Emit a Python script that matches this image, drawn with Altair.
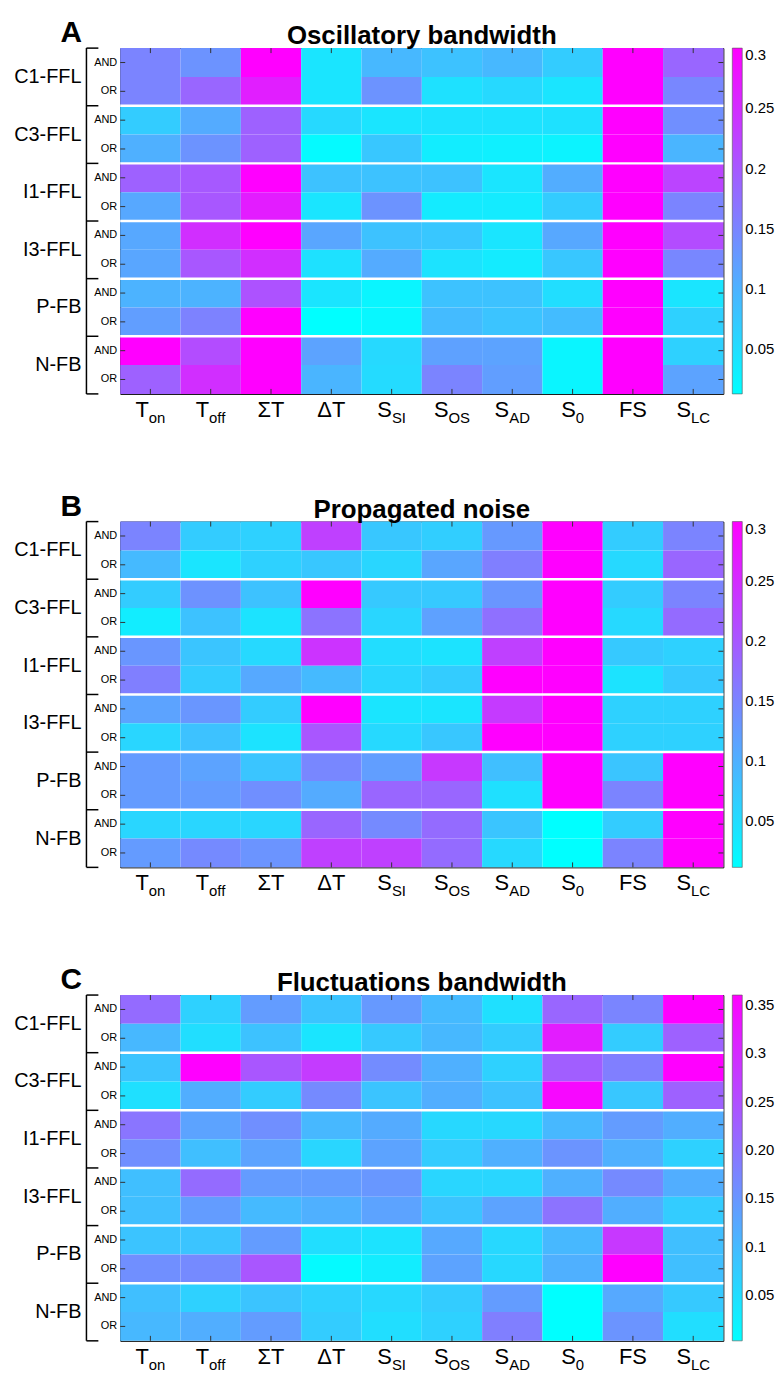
import altair as alt
import pandas as pd

FONT = "Liberation Sans, Arial, Helvetica, sans-serif"

# ---------------- data ----------------
COLUMNS = ["Ton", "Toff", "SumT", "DeltaT", "SSI", "SOS", "SAD", "S0", "FS", "SLC"]
LABEL_MAIN = ["T", "T", "ΣT", "ΔT", "S", "S", "S", "S", "FS", "S"]
LABEL_SUB = ["on", "off", "", "", "SI", "OS", "AD", "0", "", "LC"]
GROUPS = ["C1-FFL", "C3-FFL", "I1-FFL", "I3-FFL", "P-FB", "N-FB"]
LOGIC = ["AND", "OR"]

# rows: C1 AND, C1 OR, C3 AND, C3 OR, I1 AND, I1 OR, I3 AND, I3 OR, P AND, P OR, N AND, N OR
OSC_BW = [
    [0.151, 0.134, 0.330, 0.042, 0.093, 0.082, 0.093, 0.070, 0.330, 0.185],
    [0.151, 0.185, 0.266, 0.042, 0.134, 0.047, 0.056, 0.042, 0.330, 0.148],
    [0.070, 0.108, 0.191, 0.056, 0.042, 0.045, 0.045, 0.047, 0.330, 0.139],
    [0.102, 0.134, 0.191, 0.019, 0.076, 0.033, 0.030, 0.027, 0.330, 0.096],
    [0.191, 0.200, 0.330, 0.082, 0.082, 0.082, 0.042, 0.105, 0.330, 0.223],
    [0.111, 0.202, 0.268, 0.042, 0.134, 0.036, 0.036, 0.070, 0.330, 0.151],
    [0.111, 0.248, 0.330, 0.113, 0.082, 0.076, 0.042, 0.111, 0.330, 0.214],
    [0.113, 0.202, 0.248, 0.047, 0.108, 0.045, 0.036, 0.076, 0.330, 0.148],
    [0.099, 0.099, 0.208, 0.042, 0.024, 0.082, 0.082, 0.050, 0.330, 0.042],
    [0.122, 0.154, 0.330, 0.013, 0.022, 0.090, 0.079, 0.088, 0.330, 0.065],
    [0.330, 0.214, 0.330, 0.116, 0.056, 0.119, 0.116, 0.024, 0.330, 0.065],
    [0.191, 0.248, 0.330, 0.096, 0.053, 0.151, 0.122, 0.024, 0.330, 0.116],
]
OSC_DOMAIN = [0.013, 0.3]
OSC_TICKS = [0.05, 0.1, 0.15, 0.2, 0.25, 0.3]

NOISE = [
    [0.150, 0.069, 0.063, 0.228, 0.075, 0.066, 0.127, 0.330, 0.069, 0.150],
    [0.089, 0.040, 0.063, 0.075, 0.057, 0.112, 0.156, 0.330, 0.054, 0.184],
    [0.069, 0.135, 0.080, 0.330, 0.072, 0.072, 0.130, 0.330, 0.069, 0.150],
    [0.031, 0.080, 0.043, 0.170, 0.057, 0.118, 0.173, 0.330, 0.054, 0.179],
    [0.130, 0.077, 0.054, 0.242, 0.049, 0.043, 0.228, 0.330, 0.072, 0.063],
    [0.156, 0.069, 0.109, 0.089, 0.057, 0.069, 0.330, 0.330, 0.043, 0.072],
    [0.115, 0.130, 0.069, 0.330, 0.040, 0.040, 0.234, 0.330, 0.063, 0.063],
    [0.057, 0.080, 0.043, 0.202, 0.054, 0.075, 0.330, 0.330, 0.063, 0.063],
    [0.124, 0.115, 0.077, 0.147, 0.121, 0.236, 0.083, 0.330, 0.077, 0.330],
    [0.124, 0.124, 0.138, 0.106, 0.184, 0.184, 0.046, 0.330, 0.150, 0.330],
    [0.057, 0.057, 0.057, 0.184, 0.144, 0.179, 0.077, 0.011, 0.069, 0.330],
    [0.124, 0.144, 0.132, 0.228, 0.228, 0.179, 0.054, 0.011, 0.150, 0.330],
]
NOISE_DOMAIN = [0.011, 0.3]
NOISE_TICKS = [0.05, 0.1, 0.15, 0.2, 0.25, 0.3]

FLUCT_BW = [
    [0.210, 0.067, 0.142, 0.085, 0.146, 0.099, 0.046, 0.217, 0.174, 0.370],
    [0.103, 0.049, 0.089, 0.039, 0.078, 0.103, 0.074, 0.321, 0.074, 0.224],
    [0.085, 0.370, 0.239, 0.278, 0.164, 0.114, 0.067, 0.228, 0.182, 0.370],
    [0.046, 0.117, 0.074, 0.167, 0.085, 0.117, 0.089, 0.349, 0.082, 0.224],
    [0.196, 0.132, 0.160, 0.103, 0.121, 0.057, 0.057, 0.103, 0.142, 0.117],
    [0.160, 0.092, 0.132, 0.060, 0.132, 0.074, 0.114, 0.153, 0.114, 0.067],
    [0.092, 0.210, 0.142, 0.142, 0.149, 0.060, 0.060, 0.114, 0.167, 0.117],
    [0.092, 0.142, 0.099, 0.114, 0.132, 0.085, 0.132, 0.199, 0.117, 0.074],
    [0.085, 0.085, 0.142, 0.049, 0.042, 0.124, 0.057, 0.103, 0.281, 0.092],
    [0.160, 0.167, 0.239, 0.010, 0.028, 0.132, 0.057, 0.114, 0.370, 0.092],
    [0.092, 0.067, 0.085, 0.067, 0.057, 0.074, 0.142, 0.003, 0.124, 0.078],
    [0.103, 0.117, 0.142, 0.074, 0.049, 0.067, 0.182, 0.003, 0.153, 0.049],
]
FLUCT_DOMAIN = [0.003, 0.36]
FLUCT_TICKS = [0.05, 0.1, 0.15, 0.2, 0.25, 0.3, 0.35]

# ---------------- layout helpers ----------------
W, H = 607, 348
MAIN_SIZE, SUB_SIZE = 22, 15
CHAR_W = {"T": .611, "Σ": .60, "Δ": .668, "S": .667, "F": .611, "o": .556,
          "n": .556, "f": .278, "I": .278, "O": .778, "A": .667, "D": .722,
          "0": .556, "L": .556, "C": .722}


def text_w(s, size):
    return sum(CHAR_W.get(c, .6) for c in s) * size


ROWS = [f"{g} {l}" for g in GROUPS for l in LOGIC]
HALF_BAND = W / len(COLUMNS) / 2

label_df = pd.DataFrame({
    "col": COLUMNS,
    "main": LABEL_MAIN,
    "sub": LABEL_SUB,
    "off": [HALF_BAND + (text_w(m, MAIN_SIZE) - text_w(s, SUB_SIZE)) / 2
            for m, s in zip(LABEL_MAIN, LABEL_SUB)],
})
group_df = pd.DataFrame({"group": GROUPS, "row": [f"{g} AND" for g in GROUPS]})
sep_df = pd.DataFrame({"row": [f"{g} OR" for g in GROUPS[:-1]]})
row_df = pd.DataFrame({"row": ROWS, "logic": [l for g in GROUPS for l in LOGIC]})
col_df = pd.DataFrame({"col": COLUMNS})
one_df = pd.DataFrame({"k": [0]})


def panel(letter, title, values, domain, ticks, label_expr):
    cells = pd.DataFrame([
        {"row": ROWS[i], "col": COLUMNS[j], "v": values[i][j]}
        for i in range(len(ROWS)) for j in range(len(COLUMNS))
    ])
    xs = alt.Scale(domain=COLUMNS, paddingInner=0, paddingOuter=0)
    ys = alt.Scale(domain=ROWS, paddingInner=0, paddingOuter=0)

    heat = alt.Chart(cells).mark_rect(strokeWidth=0).encode(
        x=alt.X("col:N", scale=xs, axis=None),
        y=alt.Y("row:N", scale=ys, axis=None),
        color=alt.Color("v:Q", title=None, scale=alt.Scale(
            domain=domain, range=["#00ffff", "#ff00ff"], interpolate="rgb", clamp=True),
            legend=alt.Legend(
                title=None, orient="right", offset=9, padding=0, direction="vertical",
                gradientLength=H, gradientThickness=10, values=ticks,
                labelExpr=label_expr, labelFontSize=15, labelFont=FONT,
                labelColor="black", labelOverlap=False, labelBaseline="middle",
                labelOffset=3, gradientStrokeColor="#555", gradientStrokeWidth=0.6)),
    )

    seps = alt.Chart(sep_df).mark_rule(color="white", strokeWidth=2.5).encode(
        y=alt.Y("row:N", scale=ys, axis=None, bandPosition=1),
        x=alt.value(0), x2=alt.value(W))

    tick_top = alt.Chart(col_df).mark_rule(color="#333", strokeWidth=1).encode(
        x=alt.X("col:N", scale=xs, axis=None), y=alt.value(0), y2=alt.value(5))
    tick_bot = alt.Chart(col_df).mark_rule(color="#333", strokeWidth=1).encode(
        x=alt.X("col:N", scale=xs, axis=None), y=alt.value(H - 5), y2=alt.value(H))
    tick_left = alt.Chart(row_df).mark_rule(color="#333", strokeWidth=1).encode(
        y=alt.Y("row:N", scale=ys, axis=None), x=alt.value(0), x2=alt.value(5))
    tick_right = alt.Chart(row_df).mark_rule(color="#333", strokeWidth=1).encode(
        y=alt.Y("row:N", scale=ys, axis=None), x=alt.value(W - 5), x2=alt.value(W))

    logic_txt = alt.Chart(row_df).mark_text(
        align="right", baseline="middle", fontSize=11, font=FONT, color="black").encode(
        y=alt.Y("row:N", scale=ys, axis=None), x=alt.value(-3), text="logic:N")

    bracket_v = alt.Chart(one_df).mark_rule(color="black", strokeWidth=1.5).encode(
        x=alt.value(-34), y=alt.value(0), y2=alt.value(H))
    bracket_h = alt.Chart(group_df).mark_rule(color="black", strokeWidth=1.5).encode(
        y=alt.Y("row:N", scale=ys, axis=None, bandPosition=0),
        x=alt.value(-34), x2=alt.value(-22))
    bracket_end = alt.Chart(one_df).mark_rule(color="black", strokeWidth=1.5).encode(
        y=alt.value(H), x=alt.value(-34), x2=alt.value(-22))

    group_txt = alt.Chart(group_df).mark_text(
        align="right", baseline="middle", fontSize=20, font=FONT, color="black").encode(
        y=alt.Y("row:N", scale=ys, axis=None, bandPosition=1),
        x=alt.value(-39), text="group:N")

    main_txt = alt.Chart(label_df).mark_text(
        align="right", baseline="alphabetic", fontSize=MAIN_SIZE, font=FONT, color="black").encode(
        x=alt.X("col:N", scale=xs, axis=None),
        xOffset=alt.XOffset("off:Q", scale=None),
        y=alt.value(H + 23), text="main:N")
    sub_txt = alt.Chart(label_df).mark_text(
        align="left", baseline="alphabetic", fontSize=SUB_SIZE, font=FONT, color="black").encode(
        x=alt.X("col:N", scale=xs, axis=None),
        xOffset=alt.XOffset("off:Q", scale=None),
        y=alt.value(H + 29), text="sub:N")

    title_txt = alt.Chart(one_df).mark_text(
        align="center", baseline="alphabetic", fontSize=26, fontWeight="bold",
        font=FONT, color="black", text=title).encode(
        x=alt.value(W / 2), y=alt.value(-4))
    letter_txt = alt.Chart(one_df).mark_text(
        align="left", baseline="alphabetic", fontSize=30, fontWeight="bold",
        font=FONT, color="black", text=letter).encode(
        x=alt.value(-60), y=alt.value(-6))

    return alt.layer(
        heat, seps, tick_top, tick_bot, tick_left, tick_right, logic_txt,
        bracket_v, bracket_h, bracket_end, group_txt, main_txt, sub_txt,
        title_txt, letter_txt,
    ).properties(width=W, height=H)


LBL = "format(datum.value, '.2~f')"
LBL_C = "abs(datum.value - 0.2) < 1e-6 ? '0.20' : format(datum.value, '.2~f')"

pA = panel("A", "Oscillatory bandwidth", OSC_BW, OSC_DOMAIN, OSC_TICKS, LBL)
pB = panel("B", "Propagated noise", NOISE, NOISE_DOMAIN, NOISE_TICKS, LBL)
pC = panel("C", "Fluctuations bandwidth", FLUCT_BW, FLUCT_DOMAIN, FLUCT_TICKS, LBL_C)

chart = alt.vconcat(pA, pB, pC, spacing=128.5, bounds="flush").resolve_scale(
    color="independent"
).configure_view(stroke="black", strokeWidth=1).properties(
    padding={"left": 13, "top": 13, "right": 5, "bottom": 5},
    background="white",
)

chart.save("out.html", embed_options={"renderer": "svg", "actions": False})
